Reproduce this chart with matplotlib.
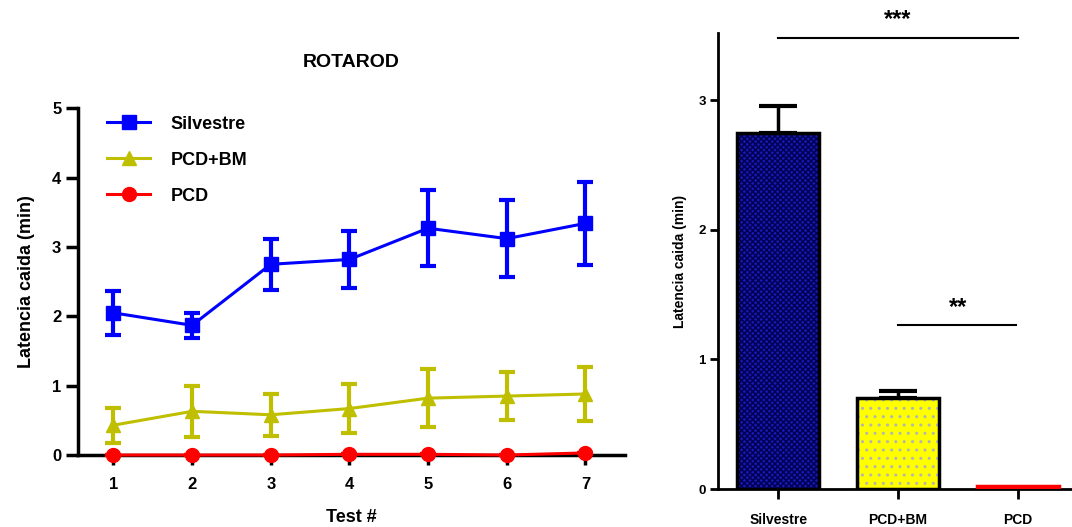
import numpy as np
import matplotlib
matplotlib.use("Agg")
import matplotlib.pyplot as plt

plt.rcParams['font.family'] = ['Liberation Sans', 'DejaVu Sans']
plt.rcParams['font.weight'] = 'bold'
plt.rcParams['hatch.linewidth'] = 1.0

# -----------------------------
#  Data
# -----------------------------
tests = [1, 2, 3, 4, 5, 6, 7]
silv_mean = [2.05, 1.87, 2.75, 2.82, 3.27, 3.12, 3.34]
silv_err = [0.32, 0.18, 0.37, 0.41, 0.55, 0.56, 0.60]
bm_mean = [0.43, 0.63, 0.58, 0.67, 0.82, 0.85, 0.88]
bm_err = [0.25, 0.37, 0.30, 0.35, 0.42, 0.35, 0.39]
pcd_mean = [0.0, 0.0, 0.0, 0.01, 0.01, 0.0, 0.03]
pcd_err = [0.0, 0.0, 0.0, 0.0, 0.0, 0.0, 0.0]

groups = ["Silvestre", "PCD+BM", "PCD"]
bar_mean = [2.75, 0.70, 0.02]
bar_err = [0.21, 0.06, 0.0]

fig = plt.figure(figsize=(10.72, 5.27), dpi=100)

# -----------------------------
#  Left: rotarod time course
# -----------------------------
ax1 = fig.add_axes([0.0728, 0.1366, 0.51, 0.658])
series = [
    ("Silvestre", silv_mean, silv_err, "#0000ff", "s", 10),
    ("PCD+BM", bm_mean, bm_err, "#bfbf00", "^", 10),
    ("PCD", pcd_mean, pcd_err, "#ff0000", "o", 10),
]
for label, m, e, c, mk, ms in series:
    ax1.errorbar(tests, m, yerr=e, fmt='none', ecolor=c, elinewidth=3,
                 capsize=5.5, capthick=3, clip_on=False, zorder=3)
    ax1.plot(tests, m, color=c, marker=mk, markersize=ms, linewidth=2.2,
             label=label, clip_on=False, zorder=4)

ax1.set_xlim(0.55, 7.5)
ax1.set_ylim(0, 5)
ax1.set_xticks(tests)
ax1.set_yticks([0, 1, 2, 3, 4, 5])
ax1.spines['top'].set_visible(False)
ax1.spines['right'].set_visible(False)
for s in ['left', 'bottom']:
    ax1.spines[s].set_linewidth(2.5)
ax1.tick_params(axis='y', direction='out', length=9, width=2.5, labelsize=12, pad=3)
ax1.tick_params(axis='x', direction='out', length=7, width=2.5, labelsize=12, pad=9)
ax1.set_xlabel("Test #", fontsize=13, fontweight='bold', labelpad=12)
ax1.set_ylabel("Latencia caida (min)", fontsize=13, fontweight='bold', labelpad=12)
ax1.set_title("ROTAROD", fontsize=14, fontweight='bold', pad=30)
ax1.legend(loc='upper left', frameon=False, fontsize=13, handlelength=2.4,
           handletextpad=1.1, labelspacing=1.05, borderaxespad=0.3,
           bbox_to_anchor=(0.03, 1.015))

# -----------------------------
#  Right: bar summary
# -----------------------------
ax2 = fig.add_axes([0.670, 0.0721, 0.33, 0.865])
x = np.arange(len(groups))
fills = ["#1818b0", "#ffff00", "#ff0000"]
hatch_cols = ["#000050", "#b4b4b4", "#ff0000"]
hatches = ["xxxxxx", "..", None]
edges = ["black", "black", "#ff0000"]
for i in range(len(groups)):
    ax2.bar(x[i], bar_mean[i], width=0.68, color=fills[i], hatch=hatches[i],
            edgecolor=hatch_cols[i], linewidth=0, zorder=2)
    ax2.bar(x[i], bar_mean[i], width=0.68, fill=False, edgecolor=edges[i],
            linewidth=2.5, zorder=3)
ax2.errorbar(x[:2], bar_mean[:2], yerr=[[0, 0], bar_err[:2]], fmt='none',
             ecolor='black', elinewidth=2.5, capsize=14, capthick=3, zorder=1)

ax2.set_xlim(-0.5, 2.45)
ax2.set_ylim(0, 3.52)
ax2.set_xticks(x)
ax2.set_xticklabels(groups)
ax2.set_yticks([0, 1, 2, 3])
ax2.spines['top'].set_visible(False)
ax2.spines['right'].set_visible(False)
for s in ['left', 'bottom']:
    ax2.spines[s].set_linewidth(2)
ax2.tick_params(axis='y', direction='out', length=6, width=2, labelsize=9.5, pad=3)
ax2.tick_params(axis='x', direction='out', length=7, width=2, labelsize=10, pad=10)
ax2.set_ylabel("Latencia caida (min)", fontsize=10, fontweight='bold', labelpad=8)

# significance brackets
ax2.plot([0, 2], [3.48, 3.48], color='black', linewidth=1.5, clip_on=False)
ax2.text(1, 3.54, "***", ha='center', va='bottom', fontsize=17, fontweight='bold')
ax2.plot([1, 1.98], [1.27, 1.27], color='black', linewidth=1.5, clip_on=False)
ax2.text(1.5, 1.31, "**", ha='center', va='bottom', fontsize=17, fontweight='bold')

fig.savefig("out.png", dpi=100)
